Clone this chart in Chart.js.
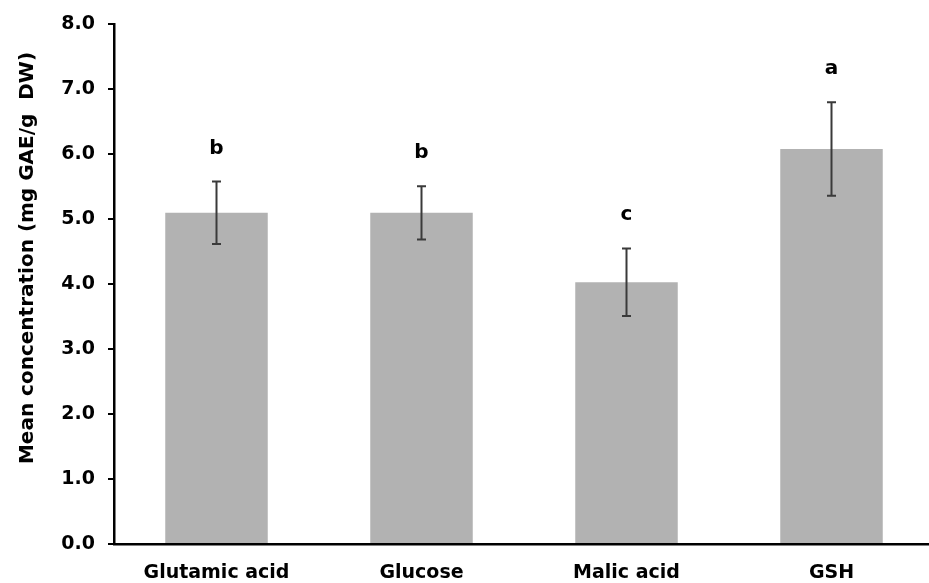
<!DOCTYPE html>
<html lang="en">
<head>
  <meta charset="UTF-8">
  <title>Mean concentration</title>
  <script src="https://cdn.jsdelivr.net/npm/chart.js"></script>
  <style>
    body {
      margin: 0;
      overflow: hidden;
      background: #fff;
    }
    #chart {
      display: block;
    }
  </style>
</head>
<body>
  <canvas id="chart" width="940" height="583"></canvas>

  <script>
    // values
    const categories = ['Glutamic acid', 'Glucose', 'Malic acid', 'GSH'];
    const means = [5.10, 5.10, 4.03, 6.08];
    const errors = [0.48, 0.41, 0.52, 0.72];
    const letters = ['b', 'b', 'c', 'a'];
    const yTicks = [0, 1, 2, 3, 4, 5, 6, 7, 8];
    const yTitle = 'Mean concentration (mg GAE/g  DW)';

    const boldFont = 'DejaVu Sans';

    // error bars, significance letters and the rotated axis title
    const extras = {
      id: 'extras',
      afterDatasetsDraw(chart) {
        const ctx = chart.ctx;
        const x = chart.scales.x;
        const y = chart.scales.y;
        ctx.save();
        means.forEach((m, i) => {
          const cx = x.getPixelForValue(i);
          const top = y.getPixelForValue(m + errors[i]);
          const bottom = y.getPixelForValue(m - errors[i]);
          ctx.strokeStyle = '#3a3a3a';
          ctx.lineWidth = 2;
          ctx.beginPath();
          ctx.moveTo(cx, top);
          ctx.lineTo(cx, bottom);
          ctx.moveTo(cx - 4.5, top);
          ctx.lineTo(cx + 4.5, top);
          ctx.moveTo(cx - 4.5, bottom);
          ctx.lineTo(cx + 4.5, bottom);
          ctx.stroke();

          ctx.fillStyle = '#000';
          ctx.font = 'bold 20px "' + boldFont + '"';
          ctx.textAlign = 'center';
          ctx.textBaseline = 'alphabetic';
          ctx.fillText(letters[i], cx, top - 28);
        });

        ctx.translate(28, 258);
        ctx.rotate(-Math.PI / 2);
        ctx.font = 'bold 20px "' + boldFont + '"';
        ctx.fillStyle = '#000';
        ctx.textAlign = 'center';
        ctx.textBaseline = 'middle';
        ctx.fillText(yTitle, 0, 0);
        ctx.restore();
      }
    };

    new Chart(document.getElementById('chart'), {
      type: 'bar',
      data: {
        labels: categories,
        datasets: [{
          data: means,
          backgroundColor: '#b2b2b2',
          borderWidth: 0,
          barPercentage: 0.5,
          categoryPercentage: 1.0
        }]
      },
      options: {
        responsive: false,
        animation: false,
        layout: {
          padding: { top: 23, right: 6, left: 0, bottom: 0 }
        },
        plugins: {
          legend: { display: false },
          tooltip: { enabled: false }
        },
        scales: {
          x: {
            afterFit: s => { s.height = 39; },
            grid: { display: false },
            border: { display: true, color: '#000', width: 2.5 },
            ticks: {
              color: '#000',
              padding: 10,
              font: { family: boldFont, size: 19, weight: 'bold' }
            }
          },
          y: {
            min: 0,
            max: 8,
            afterFit: s => { s.width = 114; },
            afterBuildTicks: s => { s.ticks = yTicks.map(v => ({ value: v })); },
            grid: {
              drawOnChartArea: false,
              color: '#000',
              lineWidth: 2,
              tickLength: 6
            },
            border: { display: true, color: '#000', width: 2.5 },
            ticks: {
              color: '#000',
              padding: 13,
              font: { family: boldFont, size: 19, weight: 'bold' },
              callback: v => Number(v).toFixed(1)
            }
          }
        }
      },
      plugins: [extras]
    });
  </script>
</body>
</html>
